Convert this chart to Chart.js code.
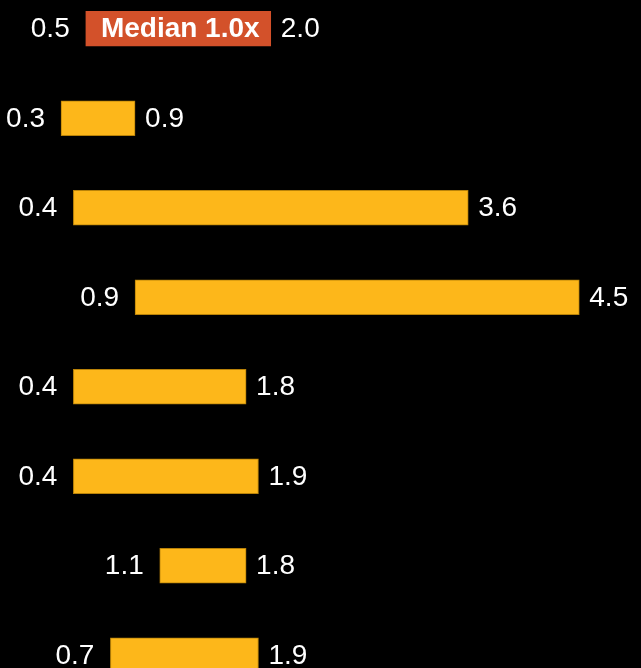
<!DOCTYPE html>
<html>
<head>
<meta charset="utf-8">
<script src="https://cdn.jsdelivr.net/npm/chart.js@4"></script>
<style>
  html, body { margin: 0; padding: 0; background: #000; overflow: hidden; }
  #wrap { position: absolute; left: 0; top: -16px; width: 641px; height: 716px; }
</style>
</head>
<body>
<div id="wrap"><canvas id="rangeChart"></canvas></div>
<script>
const rows = ['Median', 'Group 1', 'Group 2', 'Group 3', 'Group 4', 'Group 5', 'Group 6', 'Group 7']
const lows = [0.5, 0.3, 0.4, 0.9, 0.4, 0.4, 1.1, 0.7]
const highs = [2.0, 0.9, 3.6, 4.5, 1.8, 1.9, 1.8, 1.9]
const medianText = 'Median 1.0x'

const YELLOW = '#FDB71A'
const RED = '#D3512A'
const FONT = '"Liberation Sans", Arial, Helvetica, sans-serif'

// low/high labels either side of each bar, median caption inside the first one
const rangeLabels = {
  id: 'rangeLabels',
  afterDatasetsDraw(chart) {
    const ctx = chart.ctx
    const bars = chart.getDatasetMeta(0).data
    ctx.save()
    ctx.textBaseline = 'middle'
    bars.forEach((bar, i) => {
      const left = Math.min(bar.x, bar.base)
      const right = Math.max(bar.x, bar.base)
      ctx.fillStyle = '#fff'
      ctx.font = '28px ' + FONT
      ctx.textAlign = 'right'
      ctx.fillText(lows[i].toFixed(1), left - 16, bar.y + 1)
      ctx.textAlign = 'left'
      ctx.fillText(highs[i].toFixed(1), right + 10, bar.y + 1)
      if (i === 0) {
        ctx.font = 'bold 28px ' + FONT
        ctx.textAlign = 'center'
        ctx.fillText(medianText, (left + right) / 2 + 2, bar.y + 1)
      }
    })
    ctx.restore()
  }
}

new Chart(document.getElementById('rangeChart'), {
  type: 'bar',
  data: {
    labels: rows,
    datasets: [
      {
        data: rows.map((r, i) => [lows[i], highs[i]]),
        backgroundColor: rows.map((r, i) => (i === 0 ? RED : YELLOW)),
        borderColor: rows.map((r, i) => (i === 0 ? RED : '#B98208')),
        borderWidth: 1,
        borderSkipped: false,
        barThickness: 35
      }
    ]
  },
  options: {
    indexAxis: 'y',
    responsive: true,
    maintainAspectRatio: false,
    animation: false,
    layout: { padding: { left: 24, right: 0, top: 0, bottom: 0 } },
    scales: {
      x: { min: 0, max: 5, display: false },
      y: { display: false }
    },
    plugins: {
      legend: { display: false },
      tooltip: { enabled: false }
    }
  },
  plugins: [rangeLabels]
})
</script>
</body>
</html>
